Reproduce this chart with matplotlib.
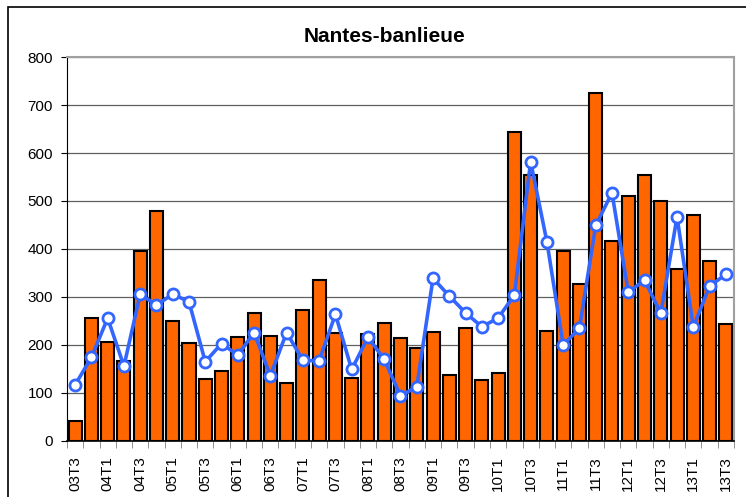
import numpy as np
import matplotlib
matplotlib.use("Agg")
import matplotlib.pyplot as plt
from matplotlib.patches import Rectangle

plt.rcParams['font.family'] = ['Liberation Sans', 'DejaVu Sans']

# quarters 03T3 .. 13T3
years = [f"{y:02d}" for y in range(3, 14)]
quarters = []
for y in years:
    for q in range(1, 5):
        quarters.append(f"{y}T{q}")
quarters = quarters[quarters.index("03T3"):quarters.index("13T3") + 1]

bars = [42, 257, 207, 167, 396, 479, 249, 205, 129, 146,
        217, 267, 219, 121, 273, 335, 224, 131, 223, 245,
        214, 193, 228, 137, 235, 127, 142, 643, 554, 229,
        396, 328, 726, 417, 510, 555, 499, 358, 471, 374,
        243]
line = [117, 174, 256, 156, 306, 283, 306, 290, 165, 203,
        179, 226, 136, 226, 168, 167, 264, 149, 216, 170,
        94, 113, 339, 302, 267, 238, 256, 304, 582, 415,
        200, 235, 449, 517, 310, 335, 266, 467, 237, 323,
        347]

x = np.arange(len(quarters))

fig = plt.figure(figsize=(7.46, 4.97), dpi=100)
ax = fig.add_axes([0.0898, 0.1127, 0.8941, 0.7726])

ax.bar(x, bars, width=0.8, color='#FF6600', edgecolor='black', linewidth=1.5, zorder=2)
ax.plot(x, line, color='#3366FF', linewidth=2.6, marker='o', markersize=8,
        markerfacecolor='white', markeredgecolor='#3366FF', markeredgewidth=2, zorder=3)

ax.set_xlim(-0.5, len(quarters) - 0.5)
ax.set_ylim(0, 800)
ax.set_yticks(range(0, 801, 100))
ax.tick_params(axis='y', labelsize=11, length=4, direction='out', pad=6)
ax.yaxis.grid(True, color='#606060', linewidth=0.9, zorder=0)
ax.set_axisbelow(True)

ax.set_xticks(x[::2])
ax.set_xticklabels(quarters[::2], rotation=90, fontsize=11)
ax.set_xticks(np.arange(-0.5, len(quarters), 1), minor=True)
ax.tick_params(axis='x', which='major', length=0, pad=11)
ax.tick_params(axis='x', which='minor', length=5, color='#808080')

ax.spines['left'].set_color('black')
ax.spines['bottom'].set_color('black')
ax.spines['bottom'].set_linewidth(1.2)
ax.spines['top'].set_color('#A0A0A0')
ax.spines['right'].set_color('#A0A0A0')
ax.spines['top'].set_linewidth(1.5)
ax.spines['right'].set_linewidth(1.5)

fig.text(0.516, 0.927, "Nantes-banlieue", ha='center', va='center',
         fontsize=15, fontweight='bold')

# outer chart frame (runs off the right and bottom edges)
fig.patches.append(Rectangle((0.0107, -0.02), 1.05, 1.006, transform=fig.transFigure,
                             fill=False, edgecolor='black', linewidth=1.2))

fig.savefig("out.png", dpi=100)
